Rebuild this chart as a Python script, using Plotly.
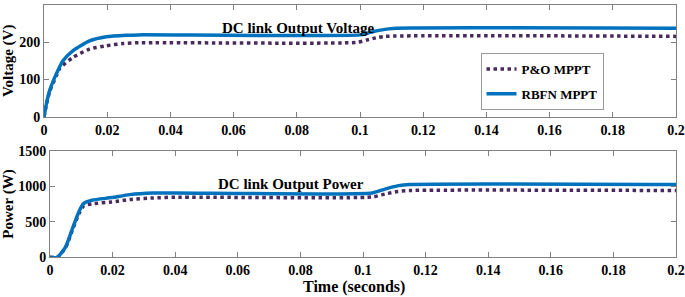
import plotly.graph_objects as go

# Voltage data (V)
t_v = [0, 0.0008, 0.0018, 0.0039, 0.006, 0.0092, 0.0144, 0.0197, 0.026, 0.03, 0.1, 0.103, 0.106, 0.109, 0.1115, 0.2]
v_rbfn = [0, 37, 71, 115, 150, 177, 203, 214, 218, 219, 219, 225, 231, 235, 237, 237]
t_v_po = [0, 0.0008, 0.0018, 0.0039, 0.005, 0.0092, 0.0144, 0.0197, 0.025, 0.03, 0.099, 0.102, 0.105, 0.108, 0.2]
v_po = [0, 35, 68, 110, 130, 159, 181, 190, 196, 198, 199, 205, 211, 215, 215]

# Power data (W)
t_p = [0, 0.0023, 0.005, 0.007, 0.0092, 0.0107, 0.0134, 0.0197, 0.0255, 0.033, 0.04, 0.103, 0.107, 0.111, 0.115, 0.2]
p_rbfn = [0, 0, 148, 382, 639, 756, 803, 840, 882, 904, 906, 906, 960, 1005, 1024, 1024]
p_po = [0, 0, 140, 365, 610, 720, 752, 779, 812, 835, 846, 849, 890, 925, 940, 940]

x_ticks = [0, 0.02, 0.04, 0.06, 0.08, 0.1, 0.12, 0.14, 0.16, 0.18, 0.2]
x_ticklabels = ["0", "0.02", "0.04", "0.06", "0.08", "0.1", "0.12", "0.14", "0.16", "0.18", "0.2"]

BLUE = "#0072BD"
PURPLE = "#4A2A5C"
FONT = "Liberation Serif"

fig = go.Figure()
fig.add_trace(go.Scatter(x=t_v_po, y=v_po, mode="lines", name="<b>P&O MPPT</b>", legendgroup="a",
                         line=dict(color=PURPLE, width=3.5, dash="dot", shape="spline", smoothing=0.6),
                         xaxis="x", yaxis="y"))
fig.add_trace(go.Scatter(x=t_v, y=v_rbfn, mode="lines", name="<b>RBFN MPPT</b>", legendgroup="b",
                         line=dict(color=BLUE, width=3.5, shape="spline", smoothing=0.6),
                         xaxis="x", yaxis="y"))
fig.add_trace(go.Scatter(x=t_p, y=p_po, mode="lines", showlegend=False,
                         line=dict(color=PURPLE, width=3.5, dash="dot", shape="spline", smoothing=0.6),
                         xaxis="x2", yaxis="y2"))
fig.add_trace(go.Scatter(x=t_p, y=p_rbfn, mode="lines", showlegend=False,
                         line=dict(color=BLUE, width=3.5, shape="spline", smoothing=0.6),
                         xaxis="x2", yaxis="y2"))

axcommon = dict(showline=True, linecolor="#808080", linewidth=1, mirror="ticks",
                ticks="inside", ticklen=5, tickcolor="#808080", showgrid=False, zeroline=False,
                automargin=False,
                tickfont=dict(family=FONT, size=14, color="black"))

fig.update_layout(
    width=685, height=297,
    margin=dict(l=0, r=0, t=0, b=0),
    paper_bgcolor="white", plot_bgcolor="white",
    font=dict(family=FONT, color="black"),
    xaxis=dict(domain=[44/685, 676/685], range=[0, 0.2], tickvals=x_ticks,
               ticktext=[f"<b>{s}</b>" for s in x_ticklabels], anchor="y", **axcommon),
    yaxis=dict(domain=[1-117/297, 1-4.5/297], range=[0, 300], tickvals=[0, 100, 200, 300],
               ticktext=["<b>0</b>", "<b>100</b>", "<b>200</b>", "<b>300</b>"], anchor="x",
               title=dict(text="<b>Voltage (V)</b>", font=dict(family=FONT, size=15), standoff=4),
               **axcommon),
    xaxis2=dict(domain=[50/685, 676/685], range=[0, 0.2], tickvals=x_ticks,
                ticktext=[f"<b>{s}</b>" for s in x_ticklabels], anchor="y2", **axcommon),
    yaxis2=dict(domain=[1-257.3/297, 1-150.7/297], range=[0, 1500], tickvals=[0, 500, 1000, 1500],
                ticktext=["<b>0</b>", "<b>500</b>", "<b>1000</b>", "<b>1500</b>"], anchor="x2",
                title=dict(text="<b>Power (W)</b>", font=dict(family=FONT, size=15), standoff=4),
                **axcommon),
    legend=dict(x=542/685, y=1-53/297, xanchor="center", yanchor="top",
                bordercolor="#999999", borderwidth=1, bgcolor="white",
                font=dict(family=FONT, size=13, color="black"),
                itemwidth=30, tracegroupgap=5),
    showlegend=True,
)

fig.add_annotation(text="<b>DC link Output Voltage</b>", xref="paper", yref="paper",
                   x=298/685, y=1-18/297, showarrow=False,
                   font=dict(family=FONT, size=15, color="black"))
fig.add_annotation(text="<b>DC link Output Power</b>", xref="paper", yref="paper",
                   x=291/685, y=1-184/297, showarrow=False,
                   font=dict(family=FONT, size=15, color="black"))
fig.add_annotation(text="<b>Time (seconds)</b>", xref="paper", yref="paper",
                   x=354/685, y=0, yanchor="bottom", showarrow=False, borderpad=0,
                   font=dict(family=FONT, size=16, color="black"))

fig.write_html("out.html", config={"displayModeBar": False},
               post_script="document.body.style.margin='0';document.body.style.overflow='hidden';")
